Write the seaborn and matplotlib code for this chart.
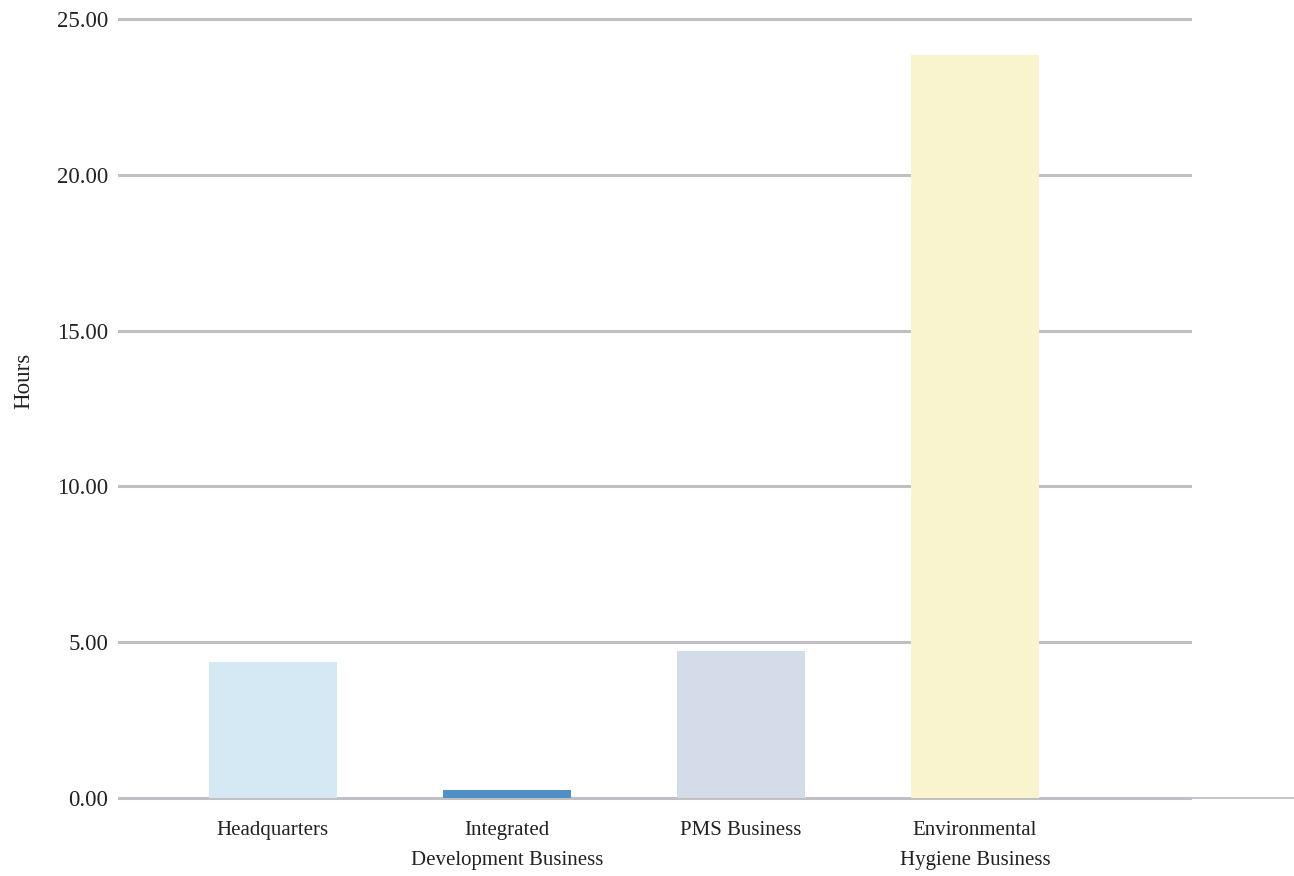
import matplotlib
matplotlib.use("Agg")
import matplotlib.pyplot as plt
import seaborn as sns
import pandas as pd

categories = ["Headquarters", "Integrated\nDevelopment Business", "PMS Business",
              "Environmental\nHygiene Business"]
hours = [4.35, 0.27, 4.72, 23.85]
colors = ["#d5e9f4", "#5090c5", "#d4dbe9", "#f9f4cd"]
yticks = [0, 5, 10, 15, 20, 25]
ylabel = "Hours"

sns.set_theme(style="white")
plt.rcParams["font.family"] = ["Liberation Serif", "DejaVu Serif"]

df = pd.DataFrame({"cat": categories, "hours": hours})

fig = plt.figure(figsize=(12.94, 8.76), dpi=100)
ax = fig.add_axes([118 / 1294, 1 - 800.5 / 876, (1192 - 118) / 1294, (800.5 - 16) / 876])

sns.barplot(data=df, x="cat", y="hours", hue="cat", palette=colors, legend=False,
            width=0.547, saturation=1, linewidth=0, edgecolor="none", ax=ax, zorder=3)

ax.set_xlim(-0.662, 3.927)
ax.set_ylim(-0.08, 25.1)
ax.set_yticks(yticks)
ax.set_yticklabels([f"{v:.2f}" for v in yticks])
ax.yaxis.grid(True, color="#c0c0c4", linewidth=2.2)
ax.xaxis.grid(False)
ax.set_axisbelow(True)
for s in ax.spines.values():
    s.set_visible(False)
ax.tick_params(axis="y", length=0, pad=7, labelsize=16.5, colors="#222222")
ax.tick_params(axis="x", length=0, pad=15, labelsize=15, colors="#222222")
for lbl in ax.get_xticklabels():
    lbl.set_linespacing(1.75)
ax.set_xlabel("")
ax.set_ylabel(ylabel, fontsize=16.5, color="#222222")
ax.yaxis.set_label_coords(-0.078, 0.535)

ax.plot([1.0, 1.095], [0, 0], transform=ax.get_yaxis_transform(), clip_on=False,
        color="#c8c8cc", linewidth=1.5, zorder=1)

fig.savefig("out.png", dpi=100)
